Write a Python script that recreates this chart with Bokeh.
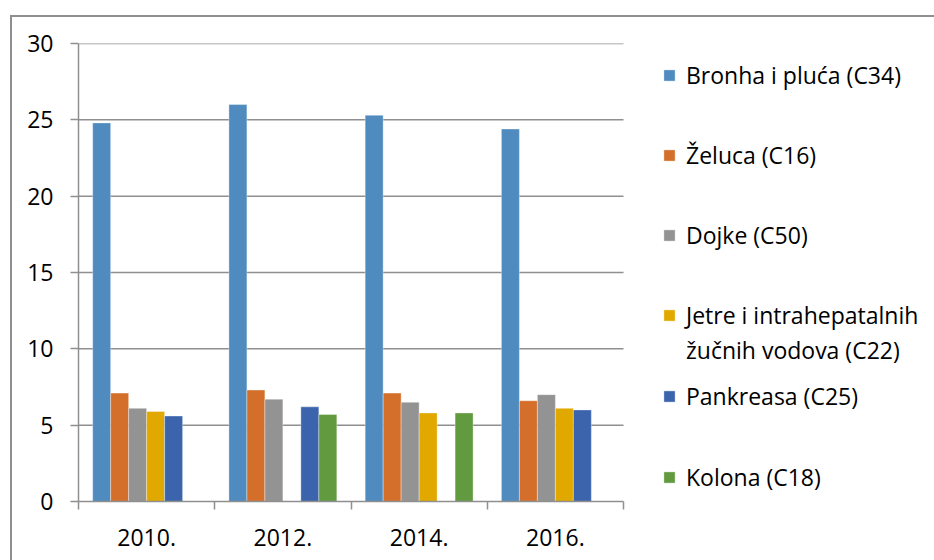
from bokeh.plotting import figure
from bokeh.models import (Range1d, FixedTicker, ColumnDataSource, Legend, LegendItem,
                          InlineStyleSheet)
from bokeh.transform import dodge
from bokeh.embed import file_html
from bokeh.resources import INLINE

years = ["2010.", "2012.", "2014.", "2016."]
y_ticks = [0, 5, 10, 15, 20, 25, 30]
series_names = [
    "Bronha i pluća (C34)",
    "Želuca (C16)",
    "Dojke (C50)",
    "Jetre i intrahepatalnih",
    "Pankreasa (C25)",
    "Kolona (C18)",
]
jetre_second_line = "žučnih vodova (C22)"
bronha = [24.8, 26.0, 25.3, 24.4]
zeluca = [7.1, 7.3, 7.1, 6.6]
dojke = [6.1, 6.7, 6.5, 7.0]
jetre = [5.9, None, 5.8, 6.1]
pankreas = [5.6, 6.2, None, 6.0]
kolona = [None, 5.7, 5.8, None]
colors = ["#4F8BBF", "#D46F2B", "#939393", "#E1A900", "#3C64AC", "#629A40"]

FONT = "Open Sans"
GRID = "#8f8f8f"

W, H = 926, 552
FL, FT, FH = 78, 43, 458          # frame left / top / height (px)
FW = W - FL                       # frame runs to the right edge, legend lives in it
PLOT_W = 545                      # px used by the four year groups
n = len(years)
x_max = n * FW / PLOT_W

border_css = InlineStyleSheet(css="""
:host::after {
  content: "";
  position: absolute;
  left: 10px; top: 15px; right: -60px; bottom: -60px;
  border-left: 2px solid #8f8f8f;
  border-top: 2px solid #8f8f8f;
  pointer-events: none;
}
""")

p = figure(width=W, height=H, output_backend="svg", toolbar_location=None,
           x_range=Range1d(0, x_max), y_range=Range1d(0, 30),
           min_border_left=FL, min_border_right=0, min_border_top=FT,
           min_border_bottom=H - FT - FH, stylesheets=[border_css])
p.outline_line_color = None
p.background_fill_color = "white"
p.border_fill_color = "white"

# horizontal gridlines (only over the year groups)
grid_vals = y_ticks[1:]
p.segment(x0=[0] * len(grid_vals), x1=[n] * len(grid_vals), y0=grid_vals, y1=grid_vals,
          line_color=GRID, line_width=1.5)

centers = [i + 0.5 for i in range(n)]
bar_w = 0.132
all_series = [bronha, zeluca, dojke, jetre, pankreas, kolona]
renderers = []
for k, (vals, col) in enumerate(zip(all_series, colors)):
    xs = [c for c, v in zip(centers, vals) if v is not None]
    ys = [v for v in vals if v is not None]
    src = ColumnDataSource(dict(x=xs, top=ys))
    r = p.vbar(x=dodge("x", (k - 2.5) * bar_w), top="top", bottom=0, width=bar_w,
               source=src, fill_color=col, line_color="white", line_alpha=0.35,
               line_width=1)
    renderers.append(r)

# invisible renderer, only used to carry the second line of the 4th legend entry
blank = p.vbar(x=[], top=[], width=bar_w, fill_alpha=0, line_alpha=0)

# y axis
p.yaxis.ticker = FixedTicker(ticks=y_ticks)
p.yaxis.axis_line_color = GRID
p.yaxis.axis_line_width = 1.5
p.yaxis.major_tick_line_color = GRID
p.yaxis.major_tick_line_width = 1.5
p.yaxis.major_tick_out = 8
p.yaxis.major_tick_in = 0
p.yaxis.minor_tick_line_color = None
p.yaxis.major_label_standoff = 17
p.yaxis.major_label_text_font = FONT
p.yaxis.major_label_text_font_size = "23px"
p.yaxis.major_label_text_color = "black"

# x axis
p.xaxis.bounds = (0, n)
p.xaxis.ticker = FixedTicker(ticks=centers, minor_ticks=list(range(n + 1)))
p.xaxis.major_label_overrides = {c: y for c, y in zip(centers, years)}
p.xaxis.axis_line_color = GRID
p.xaxis.axis_line_width = 1.5
p.xaxis.major_tick_line_color = None
p.xaxis.major_tick_out = 0
p.xaxis.major_tick_in = 0
p.xaxis.minor_tick_line_color = GRID
p.xaxis.minor_tick_line_width = 1.5
p.xaxis.minor_tick_out = 8
p.xaxis.minor_tick_in = 0
p.xaxis.major_label_standoff = 19
p.xaxis.major_label_text_font = FONT
p.xaxis.major_label_text_font_size = "23px"
p.xaxis.major_label_text_color = "black"

p.xgrid.visible = False
p.ygrid.visible = False

# legends: location = bottom-left corner, px relative to the frame's bottom-left
ITEM_H = 40
leg_x = 662 - FL


def make_legend(items, top_px, spacing):
    k = len(items)
    height = k * ITEM_H + (k - 1) * spacing
    bottom_px = top_px + height
    return Legend(
        items=items, location=(leg_x, (FT + FH) - bottom_px), orientation="vertical",
        border_line_color=None, background_fill_alpha=0,
        label_text_font=FONT, label_text_font_size="23px", label_text_color="black",
        glyph_width=14, glyph_height=14, label_standoff=10,
        spacing=spacing, padding=0, margin=0, label_height=ITEM_H,
    )


items = [LegendItem(label=nm, renderers=[r]) for nm, r in zip(series_names, renderers)]
leg_a = make_legend(items[:4], 75 - ITEM_H // 2, 40)
leg_b = make_legend([LegendItem(label=jetre_second_line, renderers=[blank])], 350 - ITEM_H // 2, 0)
leg_c = make_legend(items[4:], 396 - ITEM_H // 2, 41)
for lg in (leg_a, leg_b, leg_c):
    p.add_layout(lg)

open("out.html", "w").write(file_html(p, INLINE))
